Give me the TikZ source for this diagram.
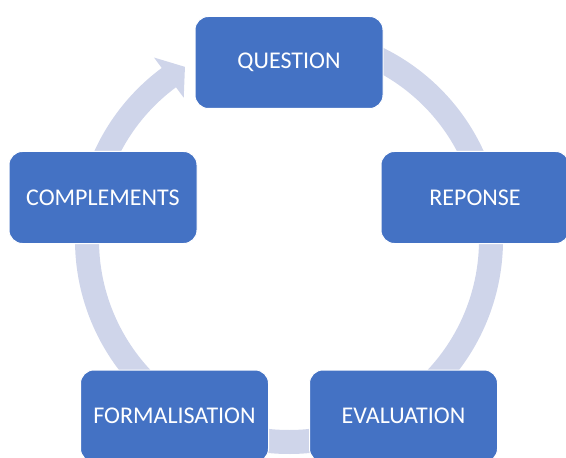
\documentclass[tikz,border=0pt]{standalone}
\usepackage{fontspec}
\setmainfont{Carlito}
\usetikzlibrary{positioning}
\definecolor{stageblue}{HTML}{4472C4}
\definecolor{ringblue}{HTML}{CFD5EA}
\tikzstyle{stage} = [rectangle, rounded corners=10pt, minimum width=141pt, minimum height=69pt, text centered, draw=white, line width=0.75pt, fill=stageblue, text=white, font=\fontsize{18}{20}\selectfont]
\tikzstyle{ring} = [fill=ringblue]

\begin{document}
\begin{tikzpicture}[x=0.75pt, y=0.75pt]
    \useasboundingbox (0,0) rectangle (566,457);
    \coordinate (ctr) at (289,217);

    % Ring arrows: complements->question, question->reponse, reponse->evaluation,
    % evaluation->formalisation, formalisation->complements
    \begin{scope}[shift={(ctr)}]
        \foreach \a/\b in {165/126.5, 80/20, 5/-50, -70/-100, 245/178}
            \fill [ring] (\a:214) arc [start angle=\a, end angle=\b, radius=214]
                -- (\b:227) -- (\b-5.5:202) -- (\b:177) -- (\b:190)
                arc [start angle=\b, end angle=\a, radius=190] -- cycle;
    \end{scope}

    % Nodes
    \node (question) [stage] at (289,394.5) {QUESTION};
    \node (reponse) [stage] at (475,259.5) {REPONSE};
    \node (evaluation) [stage] at (403.5,41) {EVALUATION};
    \node (formalisation) [stage] at (174.5,41) {FORMALISATION};
    \node (complements) [stage] at (103,259.5) {COMPLEMENTS};

\end{tikzpicture}
\end{document}
